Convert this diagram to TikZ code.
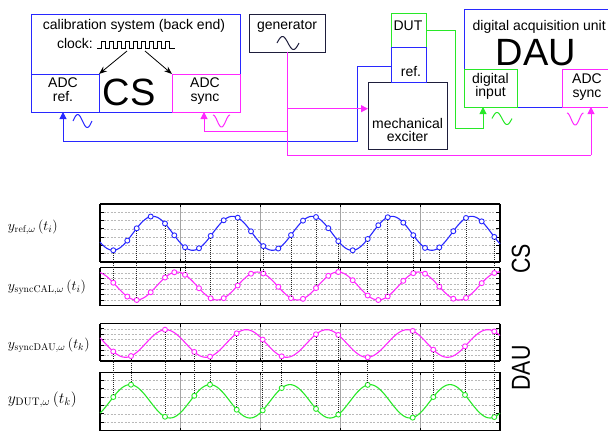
\RequirePackage{fix-cm}
\documentclass[tikz,border=0pt]{standalone}
\usepackage{fontspec}
\newfontfamily\sansf{Liberation Sans}
\usetikzlibrary{arrows.meta}
\definecolor{cB}{RGB}{40,40,255}
\definecolor{cM}{RGB}{255,40,255}
\definecolor{cG}{RGB}{40,232,40}
\definecolor{cD}{RGB}{30,30,60}
\newcommand\pframe[2]{%
  \foreach \k in {1,...,6}{%
    \draw[hgrid] (100,{#1+\k*(#2-#1)/7}) -- (500,{#1+\k*(#2-#1)/7});
    \draw[tk] (100,{#1+\k*(#2-#1)/7}) -- ++(4,0);
    \draw[tk] (500,{#1+\k*(#2-#1)/7}) -- ++(-4,0);
  }
  \foreach \xx in {180,260,340,420}{%
    \draw[vgrid] (\xx,#1) -- (\xx,#2);
    \draw[tk] (\xx,#1) -- ++(0,3);
    \draw[tk] (\xx,#2) -- ++(0,-3);
  }
  \draw[line width=1.3pt] (100,#1) -- (500,#1) (100,#2) -- (500,#2);
  \draw[line width=2pt] (100,#1) -- (100,#2) (500,#1) -- (500,#2);
}
\begin{document}
\begin{tikzpicture}[x=1pt,y=-1pt,
  every node/.style={inner sep=0pt,outer sep=0pt},
  box/.style={draw=#1,line width=1pt,anchor=north west,inner sep=0pt,outer sep=0pt},
  txt/.style={font=\sansf\fontsize{14}{14}\selectfont,anchor=base},
  big/.style={font=\sansf\fontsize{38}{38}\selectfont,anchor=base},
  wire/.style={line width=1pt,-{Triangle[length=7pt,width=7pt]}},
  glyph/.style={line width=1pt},
  hgrid/.style={gray!55,line width=0.5pt,dash pattern=on 2pt off 1.5pt},
  vgrid/.style={gray!70,line width=0.7pt},
  tk/.style={black,line width=0.8pt},
  mk/.style={circle,draw=#1,fill=white,line width=0.9pt,minimum size=5pt,inner sep=0pt},
  dotl/.style={black!85,line width=0.6pt,dash pattern=on 0.8pt off 1.2pt},
  ylab/.style={anchor=west,font=\fontsize{14}{16}\selectfont},
  side/.style={font=\sansf\fontsize{26}{26}\selectfont,rotate=90,xscale=0.82}
]
\useasboundingbox (0,0) rectangle (608,432);

% ---------- top block diagram ----------
\node[box=cB,minimum width=209pt,minimum height=98pt] (cs) at (31,14) {};
\node[box=cB,minimum width=68pt,minimum height=38pt] (adcref) at (31,74) {};
\node[box=cM,minimum width=68pt,minimum height=38pt] (adcsync) at (172,74) {};
\node[txt] (cstitle) at (134,29.5) {calibration system (back end)};
\node[txt,anchor=base west] (clk) at (57,48) {clock:};
\draw[line width=0.8pt] (97,48) foreach \k in {0,...,8}{ -- ({101+8*\k},48) -- ({101+8*\k},41) -- ({105+8*\k},41) -- ({105+8*\k},48) } -- (175,48);
\coordinate (clkA) at (127,51);
\coordinate (clkB) at (145,51);
\draw[line width=0.8pt,-{Stealth[length=8pt,width=6pt]}] (clkA) -- (adcref.north east);
\draw[line width=0.8pt,-{Stealth[length=8pt,width=6pt]}] (clkB) -- (adcsync.north west);
\node[big] (csbig) at (129,105) {CS};
\node[txt] (adcref1) at (63,87.7) {ADC};
\node[txt] (adcref2) at (63,101.7) {ref.};
\node[txt] (adcsync1) at (205,87.5) {ADC};
\node[txt] (adcsync2) at (205,101.5) {sync};

\node[box=cD,minimum width=76pt,minimum height=38pt] (gen) at (249,14) {};
\node[txt] (gentxt) at (287,29.3) {generator};
\draw[cD,glyph] plot[domain=0:1,samples=40] ({277+22*\x},{43-6.5*sin(360*\x)});

\node[box=cD,minimum width=79pt,minimum height=67pt] (exc) at (368,82) {};
\node[box=cG,minimum width=35pt,minimum height=34pt] (dut) at (391,13) {};
\node[box=cB,minimum width=35pt,minimum height=35pt] (refb) at (391,47) {};
\node[txt] (duttxt) at (408,30.7) {DUT};
\node[txt] (reftxt) at (411,76) {ref.};
\node[txt] (exc1) at (407.5,128.3) {mechanical};
\node[txt] (exc2) at (407.5,141.7) {exciter};

\node[box=cB,minimum width=160pt,minimum height=98pt] (dau) at (464,9) {};
\node[box=cG,minimum width=53pt,minimum height=38pt] (dinput) at (464,69) {};
\node[box=cM,minimum width=50pt,minimum height=38pt] (dadc) at (562,69) {};
\node[txt,anchor=base west] (dautitle) at (472.7,30) {digital acquisition unit};
\node[big] (daubig) at (536,65) {DAU};
\node[txt] (din1) at (490.5,83) {digital};
\node[txt] (din2) at (490.5,96.5) {input};
\node[txt] (dadc1) at (587,83) {ADC};
\node[txt] (dadc2) at (587,97) {sync};

% wires
\draw[cB,wire] ([yshift=-2pt]refb.west) -- (357,66.5) -- (357,141) -- (63,141) -- ([xshift=-2pt]adcref.south);
\draw[cM,line width=1pt] (gen.south) -- (287,155) -- (591,155);
\draw[cM,wire] (591,155) -- ([xshift=4pt]dadc.south);
\draw[cM,wire] (287,108.7) -- (exc.west |- 0,108.7);
\draw[cM,wire] (287,131) -- (204,131) -- ([xshift=-2pt]adcsync.south);
\draw[cG,wire] (dut.east) -- (455,30) -- (455,128) -- (483,128) -- ([xshift=-7.5pt]dinput.south);

% small signal glyphs
\draw[cB,glyph] plot[domain=0:1,samples=40] ({73+19*\x},{121-6.5*sin(360*\x)});
\draw[cM,glyph] plot[domain=0:1,samples=40] ({213+17*\x},{121-6*cos(360*\x)});
\draw[cG,glyph] plot[domain=0:1,samples=40] ({492+20*\x},{118.5-6*sin(360*\x)});
\draw[cM,glyph] plot[domain=0:1,samples=40] ({567+16.5*\x},{119-6*cos(360*\x)});

% ---------- plots ----------
\pframe{204}{262}
\pframe{267.5}{305.5}
\pframe{323.5}{361}
\pframe{372.2}{430.5}

\draw[cB,line width=1.1pt] plot[domain=100:500,samples=240] (\x,{233.3+17*cos((\x-113)*4.5169)});
\draw[cM,line width=1.1pt] plot[domain=100:500,samples=240] (\x,{286+14*cos((\x-136.5)*4.4665)});
\draw[cM,line width=1.1pt] plot[domain=100:500,samples=240] (\x,{343.5+13.8*cos((\x-125.5)*4.4720)});
\draw[cG,line width=1.1pt] plot[domain=100:500,samples=240] (\x,{401.3-16.7*cos((\x-130)*4.5)});

\foreach \t [count=\i from 0] in {113.3,127.3,136.7,150.7,165,174.3,185,199,210.7,223.7,237.7,251,263.3,278.3,291,303,316,328.3,338.3,352.7,367.7,378.3,387.7,403.3,413.3,425,439.3,453.3,466,481.7,494.3}{
  \node[mk=cB] (b\i) at (\t,{233.3+17*cos((\t-113)*4.5169)}) {};
  \node[mk=cM] (p\i) at (\t,{286+14*cos((\t-136.5)*4.4665)}) {};
}
\foreach \i in {0,2,...,30}{ \draw[dotl] (b\i) -- (p\i); }

\foreach \t [count=\i from 0] in {113.3,131,165,194.3,210,236.7,262.7,281.7,316,338.3,367.7,412.7,433.3,465,494.3}{
  \node[mk=cM] (q\i) at (\t,{343.5+13.8*cos((\t-125.5)*4.4720)}) {};
  \node[mk=cG] (g\i) at (\t,{401.3-16.7*cos((\t-130)*4.5)}) {};
}
\foreach \i in {0,...,14}{ \draw[dotl] (q\i) -- (g\i); }

% labels
\node[ylab] (lref) at (8,227) {$y_{\mathrm{ref},\omega}\left(t_i\right)$};
\node[ylab] (lcal) at (8,287) {$y_{\mathrm{syncCAL},\omega}\left(t_i\right)$};
\node[ylab] (ldau) at (8,345) {$y_{\mathrm{syncDAU},\omega}\left(t_k\right)$};
\node[ylab,font=\fontsize{15.5}{17}\selectfont] (ldut) at (8,400) {$y_{\mathrm{DUT},\omega}\left(t_k\right)$};
\node[side] (csside) at (521,259) {CS};
\node[side] (dauside) at (521,368) {DAU};
\end{tikzpicture}
\end{document}
